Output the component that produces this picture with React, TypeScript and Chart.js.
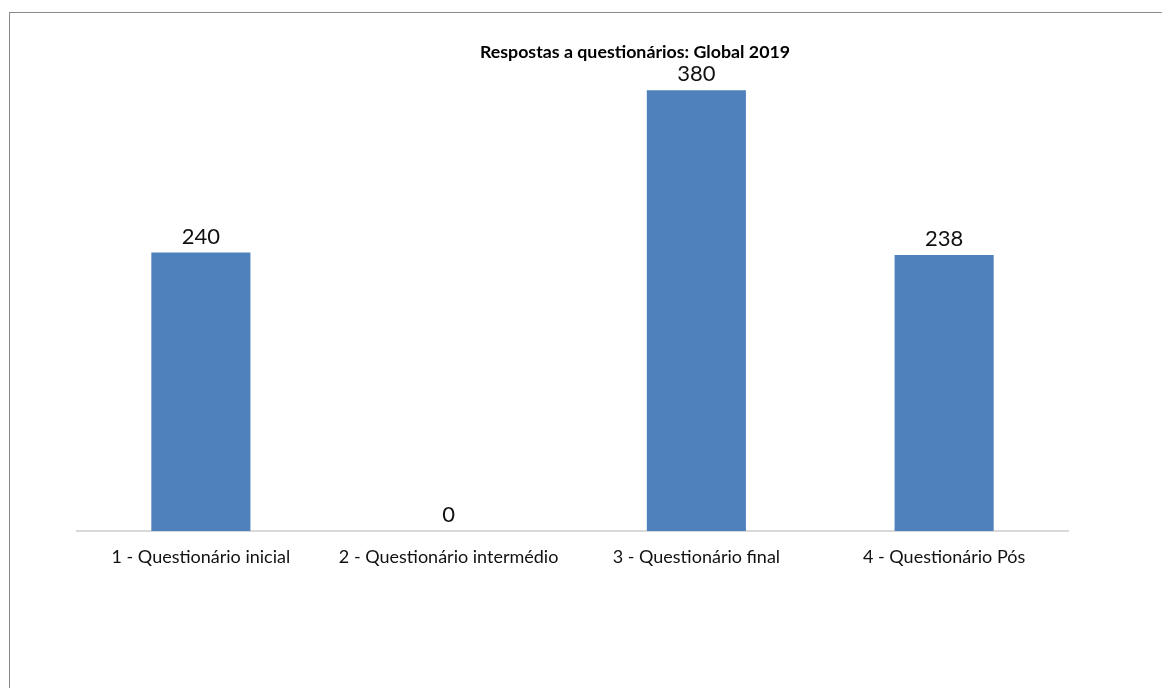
import React, { useEffect, useRef } from "react";
import { Chart, registerables } from "chart.js";

Chart.register(...registerables);

const categories = [
  "1 - Questionário inicial",
  "2 - Questionário intermédio",
  "3 - Questionário final",
  "4 - Questionário Pós",
];
const responses = [240, 0, 380, 238];
const chartTitle = "Respostas a questionários: Global 2019";

const FONT = "Lato, 'Open Sans', sans-serif";

const valueLabels = {
  id: "valueLabels",
  afterDatasetsDraw(chart: any) {
    const ctx = chart.ctx;
    const meta = chart.getDatasetMeta(0);
    ctx.save();
    ctx.font = `22px ${FONT}`;
    ctx.fillStyle = "#111";
    ctx.textAlign = "center";
    ctx.textBaseline = "alphabetic";
    meta.data.forEach((bar: any, i: number) => {
      ctx.fillText(String(responses[i]), bar.x, bar.y - 9);
    });
    ctx.restore();
  },
};

const titlePlugin = {
  id: "customTitle",
  afterDraw(chart: any) {
    const ctx = chart.ctx;
    ctx.save();
    ctx.font = `bold 17.8px ${FONT}`;
    ctx.fillStyle = "#000";
    ctx.textAlign = "center";
    ctx.textBaseline = "middle";
    ctx.fillText(chartTitle, 635, 52);
    ctx.restore();
  },
};

export default function App() {
  const ref = useRef<HTMLCanvasElement | null>(null);
  useEffect(() => {
    document.body.style.margin = "0";
    document.body.style.overflow = "hidden";
    const chart = new Chart(ref.current as HTMLCanvasElement, {
      type: "bar",
      data: {
        labels: categories,
        datasets: [
          {
            data: responses,
            backgroundColor: "#4F81BD",
            barPercentage: 0.8,
            categoryPercentage: 0.5,
          },
        ],
      },
      plugins: [valueLabels, titlePlugin],
      options: {
        animation: false,
        responsive: false,
        layout: { padding: { left: 77, right: 94, top: 67, bottom: 0 } },
        plugins: {
          legend: { display: false },
          title: { display: false },
          tooltip: { enabled: false },
        },
        scales: {
          x: {
            grid: { display: false },
            border: { display: true, color: "#d9d9d9", width: 2 },
            ticks: {
              color: "#111",
              font: { family: FONT, size: 18 },
              padding: 7,
              maxRotation: 0,
              autoSkip: false,
            },
            afterFit: (scale: any) => {
              scale.height = 688 - 531;
            },
          },
          y: {
            display: false,
            min: 0,
            max: 400,
          },
        },
      },
    });
    return () => chart.destroy();
  }, []);
  return (
    <div style={{ position: "relative", width: 1162, height: 688 }}>
      <canvas
        ref={ref}
        width={1162}
        height={688}
        style={{ position: "absolute", left: 0, top: 0, width: 1162, height: 688 }}
      />
      <div
        style={{
          position: "absolute",
          left: 9,
          top: 12,
          width: 1153,
          height: 676,
          borderLeft: "1px solid #8a8a8a",
          borderTop: "1px solid #8a8a8a",
          boxSizing: "border-box",
          pointerEvents: "none",
        }}
      />
    </div>
  );
}
